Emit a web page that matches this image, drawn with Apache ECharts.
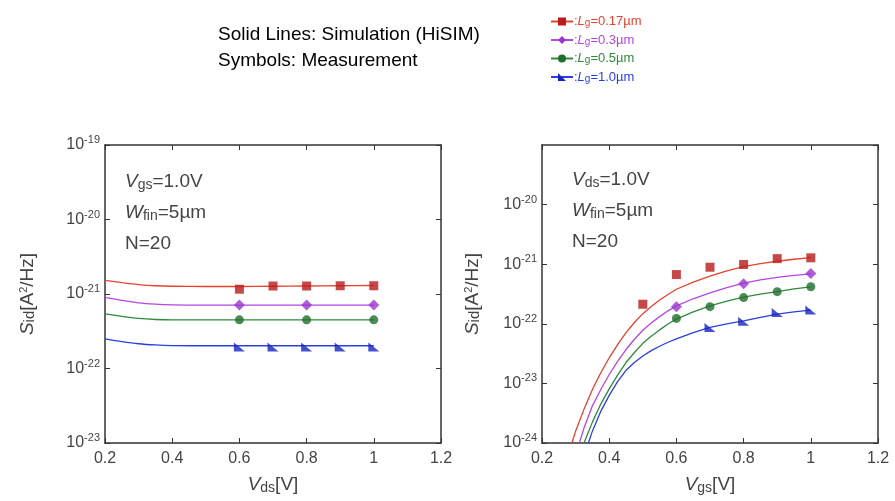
<!DOCTYPE html>
<html>
<head>
<meta charset="utf-8">
<script src="https://cdn.jsdelivr.net/npm/echarts@6/dist/echarts.min.js"></script>
<style>
html,body{margin:0;padding:0;background:#fff;}
#chart{width:895px;height:501px;}
</style>
</head>
<body>
<div id="chart"></div>
<script>
// ---- data ----
var seriesNames = [':Lg=0.17µm', ':Lg=0.3µm', ':Lg=0.5µm', ':Lg=1.0µm'];
var xTicks = [0.2, 0.4, 0.6, 0.8, 1.0, 1.2];

// Left panel: Sid [A^2/Hz] vs Vds (Vgs = 1.0 V) -- simulation
var simVds_017 = [[0.2,1.52e-21],[0.25,1.42e-21],[0.3,1.34e-21],[0.35,1.29e-21],[0.4,1.27e-21],[0.5,1.26e-21],[0.6,1.26e-21],[0.7,1.27e-21],[0.8,1.28e-21],[0.9,1.29e-21],[1.0,1.3e-21]];
var simVds_03  = [[0.2,9.0e-22],[0.25,8.2e-22],[0.3,7.6e-22],[0.35,7.3e-22],[0.4,7.15e-22],[0.5,7.1e-22],[0.6,7.1e-22],[0.7,7.1e-22],[0.8,7.1e-22],[0.9,7.1e-22],[1.0,7.1e-22]];
var simVds_05  = [[0.2,5.4e-22],[0.25,5.0e-22],[0.3,4.7e-22],[0.35,4.55e-22],[0.4,4.5e-22],[0.5,4.5e-22],[0.6,4.5e-22],[0.7,4.5e-22],[0.8,4.5e-22],[0.9,4.5e-22],[1.0,4.5e-22]];
var simVds_10  = [[0.2,2.5e-22],[0.25,2.3e-22],[0.3,2.15e-22],[0.35,2.07e-22],[0.4,2.03e-22],[0.5,2.02e-22],[0.6,2.02e-22],[0.7,2.02e-22],[0.8,2.02e-22],[0.9,2.02e-22],[1.0,2.02e-22]];
// Left panel -- measurement
var measVds_017 = [[0.6,1.16e-21],[0.7,1.28e-21],[0.8,1.28e-21],[0.9,1.29e-21],[1.0,1.29e-21]];
var measVds_03  = [[0.6,7.1e-22],[0.8,7.1e-22],[1.0,7.1e-22]];
var measVds_05  = [[0.6,4.5e-22],[0.8,4.5e-22],[1.0,4.5e-22]];
var measVds_10  = [[0.6,1.95e-22],[0.7,1.95e-22],[0.8,1.95e-22],[0.9,1.95e-22],[1.0,1.95e-22]];

// Right panel: Sid vs Vgs (Vds = 1.0 V) -- simulation
var simVgs_017 = [[0.289,1.0e-24],[0.30,1.58e-24],[0.325,3.7e-24],[0.35,7.9e-24],[0.375,1.51e-23],[0.40,2.69e-23],[0.425,4.47e-23],[0.45,7.1e-23],[0.475,1.05e-22],[0.50,1.48e-22],[0.525,1.95e-22],[0.55,2.51e-22],[0.575,3.1e-22],[0.60,3.8e-22],[0.65,5.0e-22],[0.70,6.3e-22],[0.75,7.7e-22],[0.80,9.1e-22],[0.85,1.02e-21],[0.90,1.12e-21],[0.95,1.21e-21],[1.00,1.29e-21]];
var simVgs_03  = [[0.311,1.0e-24],[0.325,1.78e-24],[0.35,4.2e-24],[0.375,7.9e-24],[0.40,1.41e-23],[0.425,2.34e-23],[0.45,3.7e-23],[0.475,5.5e-23],[0.50,7.8e-23],[0.525,1.03e-22],[0.55,1.32e-22],[0.575,1.65e-22],[0.60,2.0e-22],[0.65,2.63e-22],[0.70,3.3e-22],[0.75,4.05e-22],[0.80,4.8e-22],[0.85,5.45e-22],[0.90,6.0e-22],[0.95,6.5e-22],[1.00,6.9e-22]];
var simVgs_05  = [[0.325,1.0e-24],[0.35,2.24e-24],[0.375,4.5e-24],[0.40,8.1e-24],[0.425,1.38e-23],[0.45,2.24e-23],[0.475,3.3e-23],[0.50,4.7e-23],[0.525,6.2e-23],[0.55,7.9e-23],[0.575,9.9e-23],[0.60,1.2e-22],[0.65,1.58e-22],[0.70,2.0e-22],[0.75,2.4e-22],[0.80,2.8e-22],[0.85,3.15e-22],[0.90,3.47e-22],[0.95,3.85e-22],[1.00,4.17e-22]];
var simVgs_10  = [[0.338,1.0e-24],[0.35,1.58e-24],[0.375,3.4e-24],[0.40,6.3e-24],[0.425,1.07e-23],[0.45,1.66e-23],[0.475,2.24e-23],[0.50,2.88e-23],[0.525,3.55e-23],[0.55,4.2e-23],[0.575,4.9e-23],[0.60,5.6e-23],[0.65,7.1e-23],[0.70,8.7e-23],[0.75,1.0e-22],[0.80,1.12e-22],[0.85,1.28e-22],[0.90,1.45e-22],[0.95,1.58e-22],[1.00,1.7e-22]];
// Right panel -- measurement
var measVgs_017 = [[0.5,2.13e-22],[0.6,6.7e-22],[0.7,8.9e-22],[0.8,9.9e-22],[0.9,1.24e-21],[1.0,1.28e-21]];
var measVgs_03  = [[0.6,1.94e-22],[0.8,4.7e-22],[1.0,7.0e-22]];
var measVgs_05  = [[0.6,1.23e-22],[0.7,1.94e-22],[0.8,2.75e-22],[0.9,3.46e-22],[1.0,4.19e-22]];
var measVgs_10  = [[0.7,8.7e-23],[0.8,1.1e-22],[0.9,1.55e-22],[1.0,1.71e-22]];

// axis ranges [A^2/Hz]
var leftYMin = 1e-23, rightYMin = 1e-24, yMax = 1e-19;

// ECharts rounds tiny numbers to 0, so values are handed to the log axis in units of 1e-24 A^2/Hz
var UNIT_EXP = 24;
var UNIT = 1e24;
function toUnits(arr) { return arr.map(function (p) { return [p[0], p[1] * UNIT]; }); }

// ---- styles ----
var lineColors = ['#e8412f', '#b447e0', '#2f8a3a', '#2a3fe0'];
var markColors = ['#b81c1c', '#9a35d0', '#1f6e2c', '#1624c0'];
var symbols = ['rect', 'diamond', 'circle', 'path://M0,0 L0,10 L12,10 Z'];
var symSizes = [9, 11, 9, [11, 9]];

var chart = echarts.init(document.getElementById('chart'));
var txtFont = 'Liberation Sans, Arial, sans-serif';

function yLabelFmt(v) {
  var e = Math.round(Math.log10(v)) - UNIT_EXP;
  return '{b|10}{e|' + e + '}';
}
var yRich = {
  b: {fontSize: 16, color: '#444', fontFamily: txtFont},
  e: {fontSize: 11, color: '#444', fontFamily: txtFont, padding: [0, 0, 10, 0]}
};
function xLabelFmt(v) { return String(+v.toFixed(1)); }

var grids = [
  {left: 105, top: 145, width: 336, height: 298},
  {left: 542, top: 145, width: 336, height: 298}
];

function mkX(gi, name) {
  return [{
    type: 'value', gridIndex: gi, min: xTicks[0], max: xTicks[xTicks.length - 1], interval: 0.2,
    axisLine: {show: true, lineStyle: {color: '#333', width: 1.5}},
    axisTick: {inside: true, length: 5, lineStyle: {color: '#333'}},
    axisLabel: {formatter: xLabelFmt, fontSize: 16, color: '#444', fontFamily: txtFont, margin: 8},
    splitLine: {show: false},
    name: name, nameLocation: 'middle', nameGap: 32,
    nameTextStyle: {
      fontSize: 19, color: '#444', fontFamily: txtFont,
      rich: {
        i: {fontSize: 19, fontStyle: 'italic', color: '#444', fontFamily: txtFont},
        s: {fontSize: 14, color: '#444', fontFamily: txtFont, padding: [6, 0, 0, 0]},
        n: {fontSize: 19, color: '#444', fontFamily: txtFont}
      }
    }
  }, {
    type: 'value', gridIndex: gi, position: 'top', min: xTicks[0], max: xTicks[xTicks.length - 1], interval: 0.2,
    axisLine: {show: true, lineStyle: {color: '#333', width: 1.5}},
    axisTick: {inside: true, length: 5, lineStyle: {color: '#333'}},
    axisLabel: {show: false}, splitLine: {show: false}
  }];
}
function mkY(gi, min, showMax, gap) {
  return [{
    type: 'log', logBase: 10, gridIndex: gi, min: min * UNIT, max: yMax * UNIT,
    axisLine: {show: true, lineStyle: {color: '#333', width: 1.5}},
    axisTick: {inside: true, length: 5, lineStyle: {color: '#333'}},
    axisLabel: {formatter: yLabelFmt, rich: yRich, margin: 5, showMaxLabel: showMax},
    splitLine: {show: false},
    name: '{i|S}{s|id}{n|[A}{sup|2}{n|/Hz]}', nameLocation: 'middle', nameGap: gap, nameRotate: 90,
    nameTextStyle: {
      rich: {
        i: {fontSize: 19, fontStyle: 'italic', color: '#444', fontFamily: txtFont},
        s: {fontSize: 15, color: '#444', fontFamily: txtFont, padding: [4, 0, 0, 0]},
        n: {fontSize: 19, color: '#444', fontFamily: txtFont},
        sup: {fontSize: 11, color: '#444', fontFamily: txtFont, padding: [0, 0, 8, 0]}
      }
    }
  }, {
    type: 'log', logBase: 10, gridIndex: gi, position: 'right', min: min * UNIT, max: yMax * UNIT,
    axisLine: {show: true, lineStyle: {color: '#333', width: 1.5}},
    axisTick: {inside: true, length: 5, lineStyle: {color: '#333'}},
    axisLabel: {show: false}, splitLine: {show: false}
  }];
}

var xAxes = mkX(0, '{i|V}{s|ds}{n|[V]}').concat(mkX(1, '{i|V}{s|gs}{n|[V]}'));
var yAxes = mkY(0, leftYMin, true, 68).concat(mkY(1, rightYMin, false, 60));

var simL = [simVds_017, simVds_03, simVds_05, simVds_10];
var measL = [measVds_017, measVds_03, measVds_05, measVds_10];
var simR = [simVgs_017, simVgs_03, simVgs_05, simVgs_10];
var measR = [measVgs_017, measVgs_03, measVgs_05, measVgs_10];

var series = [];
function addPanel(sims, meas, xi, yi, smooth) {
  for (var k = 0; k < 4; k++) {
    series.push({
      name: seriesNames[k], type: 'line', xAxisIndex: xi, yAxisIndex: yi,
      data: toUnits(sims[k]), smooth: smooth, showSymbol: false, symbol: symbols[k], symbolSize: symSizes[k],
      lineStyle: {color: lineColors[k], width: 1.3}, itemStyle: {color: markColors[k]},
      clip: true, silent: true, z: 2
    });
    series.push({
      name: seriesNames[k], type: 'scatter', xAxisIndex: xi, yAxisIndex: yi,
      data: toUnits(meas[k]), symbol: symbols[k], symbolSize: symSizes[k],
      itemStyle: {color: markColors[k]}, z: 3
    });
  }
}
addPanel(simL, measL, 0, 0, 0.3);
addPanel(simR, measR, 2, 2, false);

function legendText(name) {
  var val = name.split('=')[1];
  return '{n|:}{i|L}{s|g}{n|=' + val + '}';
}

function annot(x, y, lines) {
  return {
    type: 'text', left: x, top: y, silent: true,
    style: {
      text: lines, fontSize: 19, fill: '#444', fontFamily: txtFont, lineHeight: 31,
      rich: {
        i: {fontSize: 19, fontStyle: 'italic', fill: '#444', fontFamily: txtFont, lineHeight: 31},
        s: {fontSize: 14, fill: '#444', fontFamily: txtFont, padding: [7, 0, 0, 0], lineHeight: 31},
        n: {fontSize: 19, fill: '#444', fontFamily: txtFont, lineHeight: 31}
      }
    }
  };
}

chart.setOption({
  animation: false,
  backgroundColor: '#fff',
  grid: grids,
  xAxis: xAxes,
  yAxis: yAxes,
  legend: {
    orient: 'vertical', left: 545, top: 10, itemGap: 5, itemWidth: 22, itemHeight: 10,
    selectedMode: false,
    data: seriesNames.map(function (n, k) {
      return {name: n, textStyle: {color: lineColors[k], rich: {
        i: {fontStyle: 'italic', fontSize: 13, color: lineColors[k]},
        s: {fontSize: 10, color: lineColors[k], padding: [4, 0, 0, 0]},
        n: {fontSize: 13, color: lineColors[k]}
      }}};
    }),
    formatter: legendText,
    textStyle: {fontFamily: txtFont, fontSize: 13, padding: [0, 0, 0, -4]}
  },
  graphic: [
    {type: 'text', left: 218, top: 25, style: {text: 'Solid Lines: Simulation (HiSIM)', fontSize: 19, fill: '#000', fontFamily: txtFont}},
    {type: 'text', left: 218, top: 51, style: {text: 'Symbols: Measurement', fontSize: 19, fill: '#000', fontFamily: txtFont}},
    annot(125, 166, '{i|V}{s|gs}{n|=1.0V}\n{i|W}{s|fin}{n|=5µm}\n{n|N=20}'),
    annot(572, 164, '{i|V}{s|ds}{n|=1.0V}\n{i|W}{s|fin}{n|=5µm}\n{n|N=20}')
  ],
  series: series
});
</script>
</body>
</html>
